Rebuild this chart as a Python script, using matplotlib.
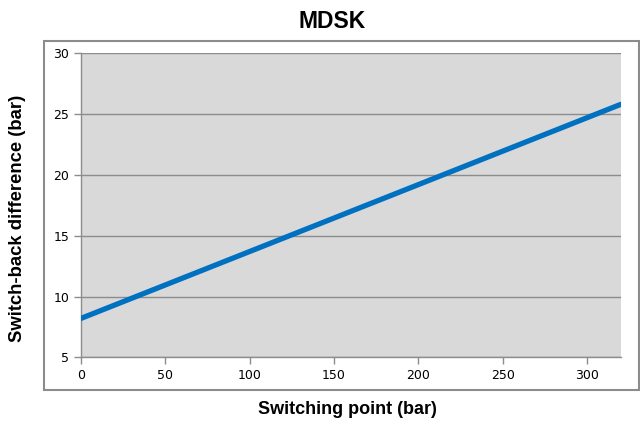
import matplotlib.pyplot as plt
from matplotlib.patches import Rectangle

# data
switch_point = [0, 320]
switchback_diff = [8.2, 25.8]
x_ticks = [0, 50, 100, 150, 200, 250, 300]
y_ticks = [5, 10, 15, 20, 25, 30]

W, H = 640, 421
fig = plt.figure(figsize=(W / 100, H / 100), dpi=100)
ax = fig.add_axes([81 / W, 1 - 357.3 / H, (620.7 - 81) / W, (357.3 - 53.3) / H])

# outer chart-area box
fig.patches.append(Rectangle((44 / W, 1 - 389.5 / H), (639 - 44) / W, (389.5 - 41) / H,
                             transform=fig.transFigure, fill=False,
                             edgecolor='#8c8c8c', linewidth=1.5))

ax.set_facecolor('#d9d9d9')
ax.plot(switch_point, switchback_diff, color='#0070c0', linewidth=3.8,
        solid_capstyle='round', zorder=3)

ax.set_xlim(0, 320)
ax.set_ylim(5, 30)
ax.set_xticks(x_ticks)
ax.set_yticks(y_ticks)
ax.grid(axis='y', color='#8c8c8c', linewidth=1.0)
ax.set_axisbelow(True)

for s in ['top', 'right']:
    ax.spines[s].set_visible(False)
for s in ['left', 'bottom']:
    ax.spines[s].set_color('#8c8c8c')
    ax.spines[s].set_linewidth(1.0)
ax.tick_params(axis='both', colors='#8c8c8c', labelcolor='black', labelsize=9,
               length=5, width=1.0)

fig.text(332.5 / W, 1 - 21.5 / H, 'MDSK', fontsize=16.5, fontweight='bold',
         family='Liberation Sans', ha='center', va='center')
fig.text(347 / W, 1 - 410 / H, 'Switching point (bar)', fontsize=13, fontweight='bold',
         family='Liberation Sans', ha='center', va='center')
fig.text(18 / W, 1 - 218 / H, 'Switch-back difference (bar)', fontsize=13.3,
         fontweight='bold', family='Liberation Sans', ha='center', va='center',
         rotation=90)

fig.savefig('out.png', dpi=100, facecolor='white')
